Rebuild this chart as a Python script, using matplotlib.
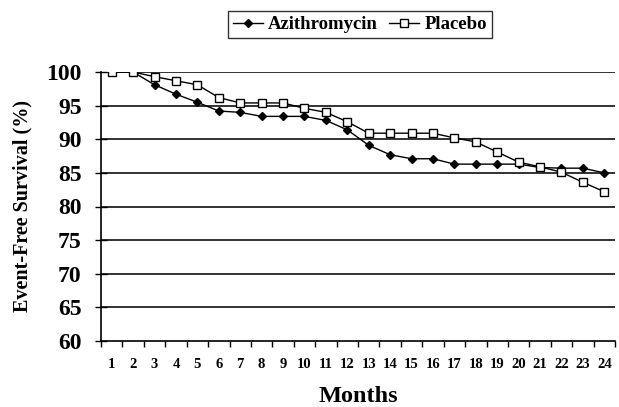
import matplotlib.pyplot as plt

months = list(range(1, 25))
azithromycin = [100, 100, 98.1, 96.7, 95.5, 94.2, 94.0, 93.4, 93.4, 93.4, 92.8, 91.4,
                89.1, 87.7, 87.1, 87.1, 86.3, 86.3, 86.3, 86.3, 85.8, 85.7, 85.7, 85.0]
placebo = [100, 100, 99.3, 98.7, 98.1, 96.2, 95.4, 95.4, 95.4, 94.6, 94.0, 92.6,
           90.9, 90.9, 90.9, 90.9, 90.2, 89.6, 88.1, 86.6, 85.9, 85.1, 83.6, 82.2]
y_ticks = [60, 65, 70, 75, 80, 85, 90, 95, 100]

plt.rcParams["font.family"] = ["Liberation Serif", "DejaVu Serif"]
plt.rcParams["font.weight"] = "bold"

fig = plt.figure(figsize=(6.19, 4.07), dpi=100)
ax = fig.add_axes([101 / 619, 1 - 341 / 407, (615 - 101) / 619, (341 - 72) / 407])

for v in y_ticks[1:]:
    ax.axhline(v, color="#222222", linewidth=1.3, zorder=1)

ax.plot(months, azithromycin, color="black", linewidth=1, marker="D",
        markersize=4, markerfacecolor="black", markeredgecolor="black",
        label="Azithromycin", zorder=3)
ax.plot(months, placebo, color="black", linewidth=1, marker="s",
        markersize=5.5, markerfacecolor="white", markeredgecolor="black",
        markeredgewidth=1, label="Placebo", zorder=3)

ax.set_xlim(0.5, 24.5)
ax.set_ylim(60, 100)
ax.set_yticks(y_ticks)
ax.set_yticklabels([str(v) for v in y_ticks], fontsize=17, fontweight="bold")
ax.set_xticks(months)
ax.set_xticklabels([str(m) for m in months], fontsize=10.5, fontweight="bold")
ax.set_xticks([m + 0.5 for m in range(0, 25)], minor=True)
ax.tick_params(axis="x", which="major", length=0, pad=12)
ax.tick_params(axis="x", which="minor", length=4, width=1, direction="out")
ax.tick_params(axis="y", length=8, width=1, direction="inout", pad=10)

ax.spines["top"].set_visible(False)
ax.spines["right"].set_visible(False)
ax.spines["left"].set_linewidth(1.2)
ax.spines["bottom"].set_linewidth(1.2)

ax.set_xlabel("Months", fontsize=17.5, fontweight="bold", labelpad=11)
ax.set_ylabel("Event-Free Survival (%)", fontsize=14.5, fontweight="bold", labelpad=10)

leg = fig.legend(loc="upper center", bbox_to_anchor=(360 / 619, 1 - 2 / 407), ncol=2,
                 frameon=True, fancybox=False, edgecolor="black",
                 prop={"size": 13.5, "weight": "bold"}, handlelength=1.6,
                 columnspacing=0.6, handletextpad=0.3, borderpad=0.25)
leg.get_frame().set_linewidth(1)

fig.savefig("out.png", dpi=100)
